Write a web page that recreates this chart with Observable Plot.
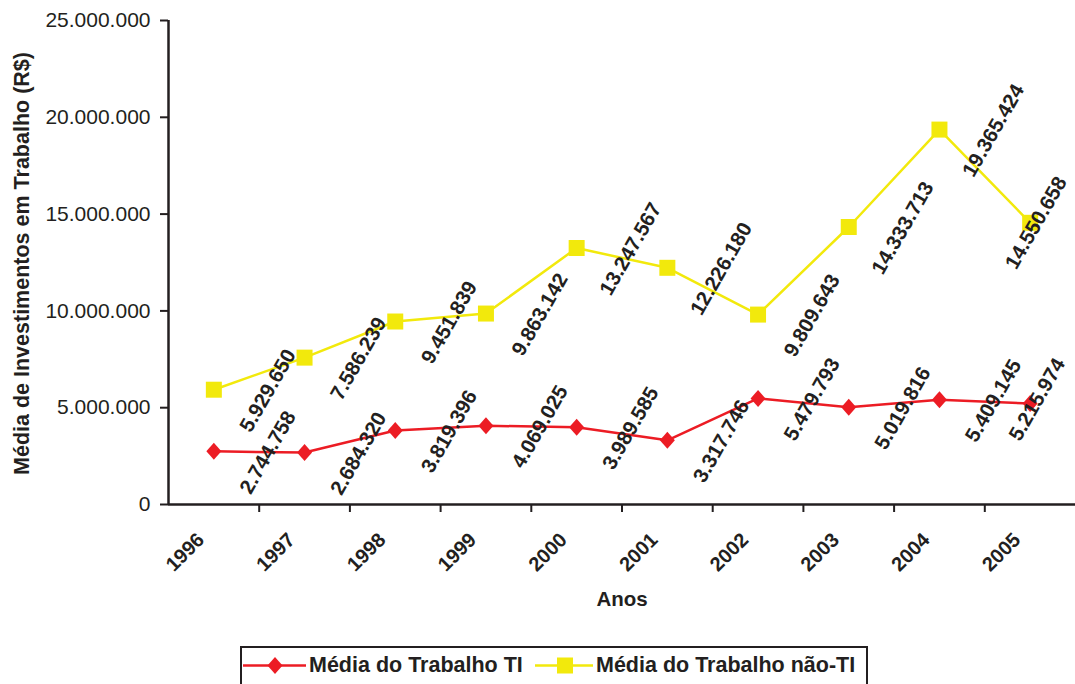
<!DOCTYPE html>
<html>
<head>
<meta charset="utf-8">
<script src="https://cdn.jsdelivr.net/npm/d3@7"></script>
<script src="https://cdn.jsdelivr.net/npm/@observablehq/plot@0.6"></script>
<style>
  body { margin: 0; background: #fff; font-family: "Liberation Sans", Arial, sans-serif; color: #231f20; }
  #wrap { position: relative; width: 1075px; height: 684px; overflow: hidden; }
  #chart svg { overflow: visible; }
  #legend { position: absolute; left: 240px; top: 646px; width: 628px; height: 50px; border: 2px solid #231f20; box-sizing: border-box; background: #fff; }
  .item { position: absolute; top: 5px; display: flex; align-items: center; font-weight: bold; font-size: 21.5px; white-space: nowrap; }
  .item svg { margin-right: 3px; }
</style>
</head>
<body>
<div id="wrap"><div id="chart"></div><div id="legend"></div></div>
<script>
const years = [1996, 1997, 1998, 1999, 2000, 2001, 2002, 2003, 2004, 2005];
const trabalhoTI = [2744758, 2684320, 3819396, 4069025, 3989585, 3317746, 5479793, 5019816, 5409145, 5215974];
const trabalhoNaoTI = [5929650, 7586239, 9451839, 9863142, 13247567, 12226180, 9809643, 14333713, 19365424, 14550658];
const yTicks = [0, 5000000, 10000000, 15000000, 20000000, 25000000];
const seriesNames = ["Média do Trabalho TI", "Média do Trabalho não-TI"];
const colors = ["#ec1c24", "#f2e90c"];
const yTitle = "Média de Investimentos em Trabalho (R$)";
const xTitle = "Anos";

const fmt = v => v === 0 ? "0" : d3.format(",")(v).replace(/,/g, ".");
const ink = "#231f20";

const ti = years.map((y, i) => ({year: y, value: trabalhoTI[i]}));
const nti = years.map((y, i) => ({year: y, value: trabalhoNaoTI[i]}));
const boundaries = years.slice(1).map(y => y - 0.5);
const lastYear = years[years.length - 1];
const notLast = d => d.year !== lastYear;
const isLast = d => d.year === lastYear;

const diamondSym = {draw(ctx) { ctx.moveTo(0, -8.5); ctx.lineTo(7.5, 0); ctx.lineTo(0, 8.5); ctx.lineTo(-7.5, 0); ctx.closePath(); }};
const squareSym = {draw(ctx) { ctx.rect(-8, -8, 16, 16); }};

const labelOpts = {x: "year", y: "value", text: d => fmt(d.value), rotate: -60, textAnchor: "middle", lineAnchor: "middle", fontSize: 20.5, fontWeight: "bold", fill: ink};

const chart = Plot.plot({
  width: 1075,
  height: 642,
  marginLeft: 168,
  marginRight: 0,
  marginTop: 20,
  marginBottom: 138,
  style: {fontFamily: "Liberation Sans, Arial, sans-serif", color: ink, background: "#fff", overflow: "visible"},
  x: {domain: [1995.5, 2005.5], axis: null},
  y: {domain: [0, 25000000], axis: null},
  marks: [
    Plot.axisY({ticks: yTicks, tickFormat: fmt, tickSize: 8, tickPadding: 10, fontSize: 21, strokeWidth: 2, stroke: ink, fill: ink, label: null}),
    Plot.axisX({ticks: boundaries, tickSize: 8, text: null, strokeWidth: 2, stroke: ink, label: null}),
    Plot.text(years, {x: d => d, frameAnchor: "bottom", text: d => String(d), rotate: -45, textAnchor: "end", lineAnchor: "middle", dx: -13, dy: 32, fontSize: 20, fontWeight: "bold", fill: ink}),
    Plot.ruleX([1995.5], {stroke: ink, strokeWidth: 2.5}),
    Plot.ruleY([0], {stroke: ink, strokeWidth: 2.5}),
    Plot.line(nti, {x: "year", y: "value", stroke: colors[1], strokeWidth: 2.5}),
    Plot.line(ti, {x: "year", y: "value", stroke: colors[0], strokeWidth: 2.5}),
    Plot.dot(nti, {x: "year", y: "value", symbol: squareSym, fill: colors[1], stroke: "none"}),
    Plot.dot(ti, {x: "year", y: "value", symbol: diamondSym, fill: colors[0], stroke: "none"}),
    Plot.text(nti, {...labelOpts, filter: notLast, dx: 54, dy: 1}),
    Plot.text(ti, {...labelOpts, filter: notLast, dx: 54, dy: 1}),
    Plot.text(nti, {...labelOpts, filter: isLast, dx: 6, dy: 0}),
    Plot.text(ti, {...labelOpts, filter: isLast, dx: 7, dy: -4}),
    Plot.text([yTitle], {frameAnchor: "left", text: d => d, rotate: -90, textAnchor: "middle", dx: -146, dy: 1, fontSize: 21.5, fontWeight: "bold", fill: ink}),
    Plot.text([xTitle], {frameAnchor: "bottom", text: d => d, dy: 101, fontSize: 20.5, fontWeight: "bold", fill: ink})
  ]
});
document.getElementById("chart").appendChild(chart);

const legend = document.getElementById("legend");
const items = [
  {name: seriesNames[0], color: colors[0], left: 1, shape: '<path d="M32,3 L39.5,11.5 L32,20 L24.5,11.5 Z"/>'},
  {name: seriesNames[1], color: colors[1], left: 293, shape: '<rect x="22" y="3.5" width="16" height="16"/>'}
];
for (const it of items) {
  const div = document.createElement("div");
  div.className = "item";
  div.style.left = it.left + "px";
  const w = it.left === 1 ? 63 : 58;
  div.innerHTML = `<svg width="${w}" height="23"><line x1="0" x2="${w}" y1="11.5" y2="11.5" stroke="${it.color}" stroke-width="2.5"/><g fill="${it.color}">${it.shape}</g></svg><span>${it.name}</span>`;
  legend.appendChild(div);
}
</script>
</body>
</html>
